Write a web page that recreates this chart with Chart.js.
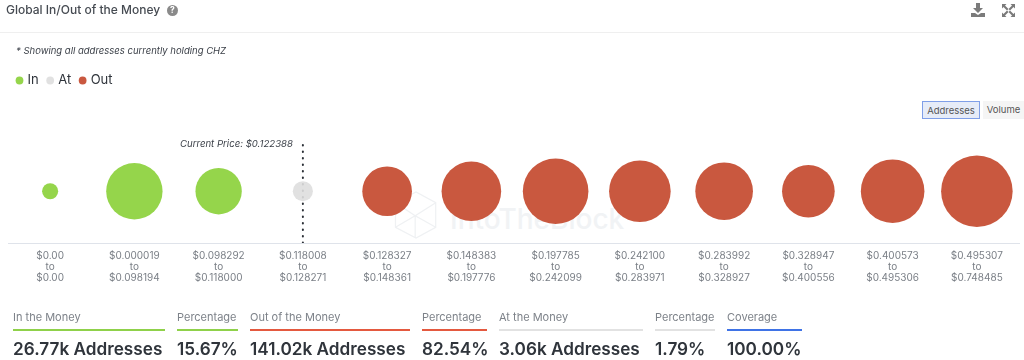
<!DOCTYPE html>
<html><head><meta charset="utf-8">
<script src="https://cdn.jsdelivr.net/npm/chart.js@4"></script>
<style>
html,body{margin:0;padding:0;background:#fff;width:1024px;height:360px;overflow:hidden;font-family:Inter,sans-serif;color:#3a3f47}
.a{position:absolute;white-space:nowrap}
canvas{position:absolute;left:0;top:0}
.lab{font-size:11px;color:#7d8289;line-height:14px;top:310px}
.val{font-size:17.2px;font-weight:600;color:#2f343b;top:338px;line-height:22px}
.rule{height:2px;top:329px}
.btn{font-size:9.5px;top:101px;height:18px;line-height:18px;text-align:center;color:#555;box-sizing:border-box}
</style></head><body>
<svg class="a" style="left:393px;top:188px" width="46" height="54" viewBox="0 0 56 58" fill="none" stroke="#eff1f3" stroke-width="1.500"><path d="M3 14 28 1l24 13v30L28 57 3 44zM3 44l24-14 25 14M27 30V57M3 14l24 16 25-16"/></svg>
<div class="a" style="left:450px;top:204px;font-size:28px;font-weight:500;line-height:30px;color:#f1f3f5">IntoTheBlock</div>
<canvas id="c" width="1024" height="360"></canvas>
<div class="a" style="left:6px;top:2px;font-size:12px;font-weight:500;line-height:16px;color:#464b52">Global In/Out of the Money</div>
<div class="a" style="left:167px;top:5px;width:11px;height:11px;border-radius:50%;background:#8a8a8a;color:#fff;font-size:8.5px;font-weight:700;line-height:11px;text-align:center">?</div>
<svg class="a" style="left:970px;top:3px" width="16" height="15" viewBox="0 0 16 15"><path d="M6 0h4v5h3l-5 5-5-5h3zM1 10h4l3 2 3-2h4v4H1z" fill="#7b7b7b"/></svg>
<svg class="a" style="left:1002px;top:4px" width="13" height="13" viewBox="0 0 13 13"><path d="M0 0h4.5L3 1.5 6.5 5 5 6.5 1.500 3 0 4.500zM13 0v4.500L11.500 3 8 6.500 6.500 5 10 1.500 8.500 0zM0 13V8.500L1.500 10 5 6.500 6.500 8 3 11.500 4.500 13zM13 13H8.500L10 11.500 6.500 8 8 6.500 11.500 10 13 8.500z" fill="#7b7b7b"/></svg>
<div class="a" style="left:0;top:32px;width:1024px;height:1px;background:#efefef"></div>
<div class="a" style="left:16px;top:44px;font-size:9.5px;font-style:italic;line-height:13px;color:#3a3f47">* Showing all addresses currently holding CHZ</div>
<div class="a btn" style="left:922px;width:58px;border:1px solid #7f9fe8;background:#e6ecf8">Addresses</div>
<div class="a btn" style="left:983px;width:41px;background:#f5f5f5">Volume</div>
<div class="a" style="left:180px;top:137px;font-size:9.6px;font-style:italic;line-height:13px;color:#3a3f47">Current Price: $0.122388</div>
<div class="a lab" style="left:13px">In the Money</div>
<div class="a rule" style="left:13px;width:152px;background:#8fd14a"></div>
<div class="a val" style="left:13px">26.77k Addresses</div>
<div class="a lab" style="left:177px">Percentage</div>
<div class="a rule" style="left:177px;width:61px;background:#8fd14a"></div>
<div class="a val" style="left:177px">15.67%</div>
<div class="a lab" style="left:250px">Out of the Money</div>
<div class="a rule" style="left:250px;width:160px;background:#e4593f"></div>
<div class="a val" style="left:250px">141.02k Addresses</div>
<div class="a lab" style="left:422px">Percentage</div>
<div class="a rule" style="left:422px;width:65px;background:#e4593f"></div>
<div class="a val" style="left:422px">82.54%</div>
<div class="a lab" style="left:499px">At the Money</div>
<div class="a rule" style="left:499px;width:144px;background:#e2e2e2"></div>
<div class="a val" style="left:499px">3.06k Addresses</div>
<div class="a lab" style="left:655px">Percentage</div>
<div class="a rule" style="left:655px;width:60px;background:#e2e2e2"></div>
<div class="a val" style="left:655px">1.79%</div>
<div class="a lab" style="left:727px">Coverage</div>
<div class="a rule" style="left:727px;width:75px;background:#3f73e6"></div>
<div class="a val" style="left:727px">100.00%</div>
<script>
// Price ranges (tick labels)
const rangeFrom = ["$0.00","$0.000019","$0.098292","$0.118008","$0.128327","$0.148383","$0.197785","$0.242100","$0.283992","$0.328947","$0.400573","$0.495307"];
const rangeTo   = ["$0.00","$0.098194","$0.118000","$0.128271","$0.148361","$0.197776","$0.242099","$0.283971","$0.328927","$0.400556","$0.495306","$0.748485"];
// Addresses per bucket, thousands
const addresses = [1.24,15.24,10.29,1.94,11.85,17.06,20.65,18.22,15.95,13.31,19.41,24.57];
// Bucket status
const status = ["In","In","In","At","Out","Out","Out","Out","Out","Out","Out","Out"];
const currentBucket = 3;
const seriesNames = ["In","At","Out"];
const seriesColors = {In:"#95d54b",At:"rgba(222,222,222,0.9)",Out:"#c9583f"};
const labels = rangeFrom.map((f,i)=>[f,"to",rangeTo[i]]);
const K = 0.0192;
const datasets = seriesNames.map(n=>({
  type:"bubble",label:n,backgroundColor:seriesColors[n],borderWidth:0,hoverBorderWidth:0,order:1,
  data:addresses.map((v,i)=>({x:labels[i],y:1,v,i})).filter(p=>status[p.i]===n),
  radius:ctx=>{const r=ctx.raw;return r?Math.sqrt(r.v/K):0}
}));
datasets.push({type:"line",label:"Current Price",data:[{x:labels[currentBucket],y:0},{x:labels[currentBucket],y:2}],
  borderColor:"#2b2f36",borderWidth:2,borderDash:[0.5,6],borderCapStyle:"round",pointRadius:0,order:2});
new Chart(document.getElementById("c"),{
  data:{labels,datasets},
  options:{
    responsive:false,animation:false,
    layout:{autoPadding:false,padding:{left:8,right:5,top:64,bottom:70}},
    plugins:{tooltip:{enabled:false},title:{display:false},
      legend:{position:"top",align:"start",
        labels:{usePointStyle:true,pointStyle:"circle",boxWidth:3,boxHeight:5.5,padding:10,color:"#2f343b",
          font:{family:"Inter",size:13},filter:i=>i.text!=="Current Price"}}},
    scales:{
      x:{type:"category",offset:true,grid:{display:false,drawTicks:false},border:{color:"#dfe3ea",width:1},
        ticks:{color:"#7a7f86",font:{family:"Inter",size:10,lineHeight:1.1},padding:7,maxRotation:0,autoSkip:false}},
      y:{type:"linear",min:0,max:2.82,display:false}
    }
  }
});
</script>
</body></html>
